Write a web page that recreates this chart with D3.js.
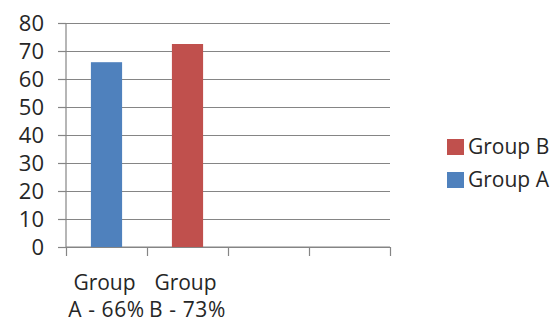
<!DOCTYPE html>
<html>
<head>
<meta charset="utf-8">
<script src="https://cdn.jsdelivr.net/npm/d3@7"></script>
<style>
  body { margin: 0; background: #fff; }
  text { font-family: "Open Sans", sans-serif; fill: #262626; }
</style>
</head>
<body>
<div id="chart"></div>
<script>
// data
var categories = ["Group A - 66%", "Group B - 73%", "", ""];
var values = [66, 72.5, null, null];
var barColors = ["#4F81BD", "#C0504D", null, null];
var yTicks = [0, 10, 20, 30, 40, 50, 60, 70, 80];
var legendNames = ["Group B", "Group A"];
var legendColors = ["#C0504D", "#4F81BD"];

var margin = {left: 66, right: 165, top: 23, bottom: 77};
var width = 555 - margin.left - margin.right,
	height = 324 - margin.top - margin.bottom;

var svg = d3.select("#chart")
	.append("svg")
		.attr("width", 555)
		.attr("height", 324);

var canvas = svg.append("g")
	.attr("transform", "translate(" + margin.left + ", " + margin.top + ")");

var slots = d3.range(categories.length);

var x = d3.scaleBand()
	.domain(slots)
	.range([0, width])
	.padding(0);

var xEdge = d3.scaleLinear()
	.domain([0, categories.length])
	.range([0, width]);

var y = d3.scaleLinear()
	.domain([0, 80])
	.range([height, 0]);

// gridlines
var grid = canvas.append("g")
	.attr("class", "grid")
	.call(d3.axisLeft(y).tickValues(yTicks).tickSize(-width).tickFormat(""));
grid.select(".domain").remove();
grid.selectAll("line").attr("stroke", "#858585").attr("stroke-width", 1.2);

// y axis
var yAxis = canvas.append("g")
	.attr("class", "y axis")
	.call(d3.axisLeft(y).tickValues(yTicks).tickSize(8).tickPadding(14));
yAxis.select(".domain").attr("stroke", "#858585").attr("stroke-width", 1.2)
	.attr("d", "M0," + height + "V0");
yAxis.selectAll("line").attr("stroke", "#858585").attr("stroke-width", 1.2);
yAxis.selectAll("text")
	.attr("font-size", "22px")
	.attr("font-family", "Open Sans, sans-serif")
	.attr("fill", "#262626");

// x axis (ticks at category edges)
var xAxis = canvas.append("g")
	.attr("class", "x axis")
	.attr("transform", "translate(0, " + height + ")")
	.call(d3.axisBottom(xEdge).tickValues(d3.range(categories.length + 1)).tickSize(9).tickFormat(""));
xAxis.select(".domain").attr("stroke", "#858585").attr("stroke-width", 1.2)
	.attr("d", "M0,0H" + width);
xAxis.selectAll("line").attr("stroke", "#858585").attr("stroke-width", 1.2);

// bars
var barW = x.bandwidth() * 0.385;
canvas.selectAll("rect.bar")
	.data(slots.filter(function(i){ return values[i] != null; }))
	.enter()
	.append("rect")
		.attr("class", "bar")
		.attr("x", function(i){ return x(i) + x.bandwidth() / 2 - barW / 2; })
		.attr("y", function(i){ return y(values[i]); })
		.attr("width", barW)
		.attr("height", function(i){ return height - y(values[i]); })
		.attr("fill", function(i){ return barColors[i]; });

// category labels, wrapped at first space
var labels = canvas.selectAll("text.xlabel")
	.data(slots.filter(function(i){ return categories[i] != ""; }))
	.enter()
	.append("text")
		.attr("class", "xlabel")
		.attr("text-anchor", "middle")
		.attr("font-size", "21px")
		.attr("transform", function(i){
			return "translate(" + (x(i) + x.bandwidth() / 2) + ", " + (height + 43) + ")";
		});
labels.each(function(i){
	var s = categories[i];
	var k = s.indexOf(" ");
	var t = d3.select(this);
	t.append("tspan").attr("x", -2).attr("y", 0).text(s.slice(0, k));
	t.append("tspan").attr("x", 0).attr("y", 27).attr("letter-spacing", "0.6px").text(s.slice(k + 1));
});

// legend
var legend = svg.append("g")
	.attr("transform", "translate(447, 139)");
var items = legend.selectAll("g")
	.data(legendNames)
	.enter()
	.append("g")
		.attr("transform", function(d, i){ return "translate(0, " + (i * 33) + ")"; });
items.append("rect")
	.attr("width", 17)
	.attr("height", 16)
	.attr("fill", function(d, i){ return legendColors[i]; });
items.append("text")
	.attr("x", 21)
	.attr("y", 8)
	.attr("dy", "0.35em")
	.attr("font-size", "21px")
	.text(function(d){ return d; });
</script>
</body>
</html>
